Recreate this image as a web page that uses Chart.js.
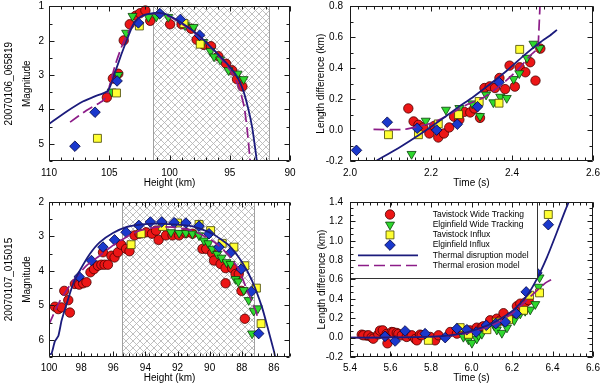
<!DOCTYPE html>
<html><head><meta charset="utf-8">
<script src="https://cdn.jsdelivr.net/npm/chart.js@4"></script>
<style>
html,body{margin:0;padding:0;background:#fff;width:600px;height:388px;overflow:hidden}
canvas{position:absolute}
</style></head><body>
<canvas id="c1" width="300" height="194" style="left:0;top:0"></canvas>
<canvas id="c2" width="300" height="194" style="left:300px;top:0"></canvas>
<canvas id="c3" width="300" height="194" style="left:0;top:194px"></canvas>
<canvas id="c4" width="300" height="194" style="left:300px;top:194px"></canvas>
<script>
// ---------- series names ----------
const seriesNames = ['Tavistock Wide Tracking','Elginfield Wide Tracking','Tavistock Influx','Elginfield Influx','Thermal disruption model','Thermal erosion model'];

// ---------- Panel 1: 20070106_065819 magnitude vs height ----------
const tlTavWide = [[105.2,3.65],[104.7,3.1],[104.25,2.96],[103.8,1.99],[103.3,1.52],[102.8,1.27],[102.45,1.2],[102.0,1.12],[101.6,1.42],[99.95,1.52],[99.0,1.52],[98.2,1.65],[97.75,1.97],[97.15,2.12],[96.55,2.16],[95.95,2.45],[95.3,2.67],[94.8,2.86],[94.4,3.12],[93.95,3.33]];
const tlElgWide = [[104.8,3.48],[104.25,3.0],[103.6,1.77],[103.07,1.28],[101.75,1.31],[101.1,1.3],[100.1,1.31],[98.7,1.55],[98.0,1.6],[97.2,2.04],[96.6,2.3],[96.3,2.46],[95.8,2.55],[95.1,2.86],[94.35,2.96],[93.85,3.12]];
const tlTavInflux = [[105.98,4.84],[104.4,3.52],[102.5,1.57],[98.8,1.5],[97.45,2.1]];
const tlElgInflux = [[107.85,5.07],[106.18,4.08],[104.35,3.17],[102.58,1.48],[100.8,1.21],[99.1,1.38],[97.5,1.84]];
const tlDisruption = [[110,4.42],[108.5,4.05],[107.15,3.76],[106.2,3.62],[105.1,3.45],[104.5,2.9],[104.0,2.4],[103.4,1.85],[103.0,1.52],[102.6,1.35],[102.0,1.24],[101.2,1.19],[100.5,1.2],[99.7,1.33],[98.6,1.57],[97.45,1.88],[96.35,2.26],[95.25,2.66],[94.4,3.04],[93.85,3.48],[93.45,4.0],[93.15,4.5],[92.9,5.1],[92.75,5.52]];
const tlErosion = [[108.25,4.37],[106.9,4.03],[105.5,3.74],[105.15,3.55],[104.9,3.2],[104.5,2.7],[104.0,2.2],[103.5,1.8],[103.0,1.52],[102.4,1.3],[101.6,1.22],[100.8,1.2],[99.7,1.35],[98.6,1.6],[97.45,1.9],[96.35,2.28],[95.25,2.72],[94.55,3.1],[94.15,3.45],[93.8,3.93],[93.55,4.6],[93.3,5.52]];
const tlHatch = [101.4, 91.7];
const tlXTicks = [90,95,100,105,110];
const tlYTicks = [1,2,3,4,5];

// ---------- Panel 2: 20070106 length difference vs time ----------
const trTavWide = [[2.144,0.14],[2.157,0.056],[2.169,0.034],[2.181,0.017],[2.196,-0.022],[2.208,0.027],[2.218,-0.048],[2.232,-0.022],[2.245,0.017],[2.257,0.086],[2.27,0.067],[2.282,0.118],[2.297,0.114],[2.307,0.14],[2.321,0.079],[2.332,0.272],[2.345,0.283],[2.358,0.272],[2.369,0.337],[2.383,0.265],[2.394,0.417],[2.407,0.281],[2.419,0.406],[2.433,0.374],[2.445,0.439],[2.458,0.32],[2.47,0.527]];
const trElgWide = [[2.152,-0.155],[2.187,0.06],[2.237,0.131],[2.27,0.142],[2.302,0.172],[2.321,0.09],[2.336,0.229],[2.354,0.179],[2.371,0.215],[2.387,0.207],[2.404,0.33],[2.418,0.367],[2.437,0.467],[2.453,0.558],[2.468,0.53]];
const trTavInflux = [[2.095,-0.03],[2.169,-0.03],[2.218,0.04],[2.268,0.1],[2.319,0.185],[2.368,0.174],[2.419,0.522]];
const trElgInflux = [[2.016,-0.131],[2.092,0.051],[2.166,0.012],[2.214,0.0],[2.265,0.038],[2.315,0.151],[2.368,0.309]];
const trDisruption = [[2.064,-0.2],[2.124,-0.109],[2.173,-0.027],[2.223,0.064],[2.264,0.142],[2.305,0.216],[2.346,0.298],[2.387,0.384],[2.429,0.482],[2.47,0.568],[2.494,0.612],[2.511,0.648]];
const trErosion = [[2.058,0.004],[2.132,0.004],[2.165,0.021],[2.206,0.049],[2.247,0.103],[2.288,0.164],[2.33,0.211],[2.371,0.287],[2.412,0.384],[2.445,0.482],[2.463,0.529],[2.466,0.623],[2.469,0.8]];
const trXTicks = [2.0,2.2,2.4,2.6];
const trYTicks = [-0.2,0.0,0.2,0.4,0.6,0.8];

// ---------- Panel 3: 20070107_015015 magnitude vs height ----------
const blTavWide = [[99.63,5.04],[99.42,5.11],[99.22,5.06],[99.05,4.58],[98.8,4.85],[98.7,5.21],[98.39,4.38],[98.12,4.4],[97.88,4.36],[97.67,4.33],[97.42,4.04],[97.2,3.95],[96.95,3.85],[96.74,3.82],[96.54,3.82],[96.33,3.82],[96.64,3.46],[96.12,3.56],[95.92,3.61],[95.71,3.46],[95.51,3.24],[95.2,3.36],[94.99,3.43],[94.68,2.97],[94.37,2.92],[93.96,2.88],[93.59,2.92],[93.18,3.1],[93.34,2.83],[92.72,2.97],[92.31,2.97],[91.9,2.97],[91.48,2.9],[91.07,2.92],[90.45,3.36],[90.21,3.36],[89.84,3.49],[89.73,3.7],[89.32,3.8],[89.01,3.92],[88.6,3.92],[88.39,4.09],[88.19,4.09],[89.01,4.36],[88.02,4.58],[87.81,5.39]];
const blElgWide = [[92.41,2.88],[91.9,2.9],[91.48,2.9],[91.07,2.92],[90.66,2.97],[90.35,3.12],[90.08,3.2],[89.84,3.36],[89.53,3.51],[89.26,3.62],[88.95,3.75],[88.7,3.8],[88.39,4.24],[88.22,4.31],[87.88,4.56],[87.57,4.85],[87.26,5.16],[87.0,5.09],[87.36,5.82]];
const blTavInflux = [[94.89,3.24],[94.27,2.92],[92.93,2.71],[92.0,2.61],[90.66,2.65],[89.94,2.83],[89.22,3.2],[88.49,3.31],[87.81,3.85],[87.09,4.5],[86.8,5.53]];
const blElgInflux = [[98.12,4.17],[97.36,3.7],[96.64,3.31],[95.92,3.1],[95.2,2.88],[94.41,2.68],[93.69,2.58],[92.99,2.58],[92.21,2.6],[91.48,2.61],[90.66,2.7],[90.04,2.92],[89.42,3.31],[88.7,3.47],[88.04,3.95],[87.4,4.6],[86.95,5.82]];
const blDisruption = [[100,6.41],[99.85,6.41],[99.63,6.04],[99.42,5.89],[99.22,5.45],[98.91,4.97],[98.5,4.38],[98.08,3.99],[97.46,3.51],[96.85,3.17],[96.02,2.9],[95.2,2.73],[94.37,2.66],[93.34,2.63],[92.31,2.65],[91.07,2.71],[89.84,2.92],[88.8,3.26],[87.98,3.75],[87.36,4.29],[86.74,5.06],[86.33,5.75],[86.0,6.33],[85.92,6.5]];
const blErosion = [[100,5.55],[99.32,4.87],[98.5,4.29],[97.67,3.85],[96.85,3.56],[96.02,3.26],[95.2,3.02],[94.37,2.83],[93.34,2.73],[92.31,2.73],[91.07,2.83],[89.84,3.12],[88.9,3.5],[88.2,3.95],[87.67,4.56],[87.15,5.14],[86.95,5.45]];
const blHatch = [95.48, 87.17];
const blXTicks = [86,88,90,92,94,96,98,100];
const blYTicks = [2,3,4,5,6];

// ---------- Panel 4: 20070107 length difference vs time ----------
const brTavWide = [[5.458,0.031],[5.482,0.021],[5.466,0.024],[5.491,0.024],[5.507,0.003],[5.515,-0.011],[5.54,0.034],[5.548,0.072],[5.562,0.075],[5.581,0.038],[5.585,-0.059],[5.606,0.058],[5.614,0.055],[5.631,0.048],[5.639,0.038],[5.656,0.024],[5.68,0.007],[5.705,0.024],[5.722,-0.014],[5.73,-0.028],[5.746,0.031],[5.754,0.024],[5.796,0.007],[5.82,-0.028],[5.837,0.024],[5.895,0.058],[5.928,0.041],[5.96,0.058],[5.977,0.072],[5.993,0.075],[6.026,0.103],[6.051,0.107],[6.059,0.117],[6.092,0.179],[6.125,0.196],[6.142,0.176],[6.158,0.252],[6.191,0.21],[6.224,0.324],[6.241,0.351],[6.265,0.361],[6.282,0.386]];
const brElgWide = [[5.96,0.007],[5.985,-0.02],[6.002,-0.055],[6.026,-0.011],[6.035,0.024],[6.051,0.038],[6.112,0.124],[6.125,0.082],[6.15,0.048],[6.175,0.103],[6.211,0.179],[6.241,0.248],[6.265,0.275],[6.29,0.289],[6.315,0.345],[6.331,0.524],[6.336,0.62]];
const brTavInflux = [[5.787,-0.028],[5.944,0.103],[5.985,0.034],[6.076,0.082],[6.125,0.16],[6.183,0.185],[6.257,0.282],[6.287,0.438],[6.336,0.462]];
const brElgInflux = [[5.573,0.013],[5.623,-0.035],[5.672,0.069],[5.771,0.041],[5.87,0.0],[5.928,0.093],[5.977,0.082],[6.023,0.058],[6.073,0.127],[6.12,0.145],[6.167,0.162],[6.221,0.248],[6.27,0.472],[6.323,0.668]];
const brDisruption = [[5.4,0],[5.6,0.002],[5.81,0.01],[5.9,0.025],[5.977,0.055],[6.076,0.124],[6.142,0.193],[6.208,0.286],[6.274,0.434],[6.323,0.607],[6.373,0.831],[6.422,1.09],[6.463,1.314],[6.48,1.4]];
const brErosion = [[5.4,0],[5.6,0.002],[5.81,0.01],[5.9,0.022],[5.977,0.045],[6.076,0.107],[6.142,0.169],[6.208,0.262],[6.274,0.39],[6.323,0.486],[6.364,0.562],[6.393,0.597]];
const brXTicks = [5.4,5.6,5.8,6.0,6.2,6.4,6.6];
const brYTicks = [-0.2,0.0,0.2,0.4,0.6,0.8,1.0,1.2,1.4];

// ---------- styles ----------
Chart.defaults.font.family = '"Liberation Sans", Arial, Helvetica, sans-serif';
Chart.defaults.font.size = 10;
Chart.defaults.color = '#000';

const STY = {
  tavWide:  {pointStyle:'circle',  pointRadius:4.7, rotation:0,   backgroundColor:'#ec1616', borderColor:'#4a0000'},
  elgWide:  {pointStyle:'triangle',pointRadius:5.2, rotation:180, backgroundColor:'#2ed82e', borderColor:'#0a400a'},
  tavInflux:{pointStyle:'rect',    pointRadius:5.6, rotation:0,   backgroundColor:'#ffff33', borderColor:'#444400'},
  elgInflux:{pointStyle:'rectRot', pointRadius:5.3, rotation:0,   backgroundColor:'#1a38cc', borderColor:'#000040'}
};
const NAVY = '#1b1b7c', PURPLE = '#8c1c88', DASH = [11,5];

const pts = a => a.map(p => ({x:p[0], y:p[1]}));

function pointDs(label, data, s){
  return {label, data:pts(data), showLine:false, pointStyle:s.pointStyle, pointRadius:s.pointRadius,
    pointRotation:s.rotation, pointBackgroundColor:s.backgroundColor, pointBorderColor:s.borderColor,
    pointBorderWidth:0.8, pointHoverRadius:s.pointRadius, clip:false};
}
function lineDs(label, data, color, dash){
  return {label, data:pts(data), showLine:true, pointRadius:0, borderColor:color, borderWidth: dash?1.7:1.8,
    borderDash: dash||[], tension:0.2, fill:false};
}

function makePattern(ctx){
  const c = document.createElement('canvas'); c.width = c.height = 7;
  const g = c.getContext('2d');
  g.strokeStyle = '#b3b3b3'; g.lineWidth = 0.85;
  g.beginPath(); g.moveTo(-1,-1); g.lineTo(8,8); g.moveTo(8,-1); g.lineTo(-1,8); g.stroke();
  return ctx.createPattern(c,'repeat');
}

function drawMarker(ctx, s, x, y){
  ctx.save();
  ctx.fillStyle = s.backgroundColor; ctx.strokeStyle = s.borderColor; ctx.lineWidth = 0.8;
  Chart.helpers.drawPoint(ctx, {pointStyle:s.pointStyle, radius:s.pointRadius, rotation:s.rotation, borderWidth:0.8}, x, y);
  ctx.restore();
}

function drawLegend(ctx, a){
  const L = a.left, T = a.top;
  ctx.save();
  ctx.fillStyle = '#fff';
  ctx.fillRect(L, T, 187.5, 76.5);
  ctx.strokeStyle = '#333'; ctx.lineWidth = 1;
  ctx.strokeRect(L+0.5, T+0.5, 187, 76);
  const rows = [12.5, 22.7, 32.9, 43.1, 53.3, 63.5];
  const keys = ['tavWide','elgWide','tavInflux','elgInflux'];
  ctx.font = '8.5px "Liberation Sans", Arial, sans-serif';
  ctx.textBaseline = 'middle'; ctx.textAlign = 'left'; ctx.fillStyle = '#000';
  seriesNames.forEach((n,i)=>{ ctx.fillStyle='#000'; ctx.fillText(n, L+82.7, T+rows[i]); });
  keys.forEach((k,i)=> drawMarker(ctx, STY[k], L+40, T+rows[i]));
  drawMarker(ctx, STY.tavInflux, L+198.3, T+rows[0]);
  drawMarker(ctx, STY.elgInflux, L+198.3, T+rows[1]);
  ctx.lineWidth = 1.8; ctx.strokeStyle = NAVY;
  ctx.beginPath(); ctx.moveTo(L+8, T+rows[4]); ctx.lineTo(L+68, T+rows[4]); ctx.stroke();
  ctx.strokeStyle = PURPLE; ctx.lineWidth = 1.7; ctx.setLineDash(DASH);
  ctx.beginPath(); ctx.moveTo(L+8, T+rows[5]); ctx.lineTo(L+68, T+rows[5]); ctx.stroke();
  ctx.restore();
}

function decoPlugin(p){
  return {
    id:'deco',
    beforeDatasetsDraw(chart){
      if (!p.hatch) return;
      const {ctx, chartArea:a, scales:{x}} = chart;
      const x1 = x.getPixelForValue(p.hatch[0]), x2 = x.getPixelForValue(p.hatch[1]);
      const l = Math.round(Math.min(x1,x2)), r = Math.round(Math.max(x1,x2));
      ctx.save();
      ctx.fillStyle = makePattern(ctx);
      ctx.fillRect(l, a.top, r-l, a.bottom-a.top);
      ctx.strokeStyle = '#a0a0a0'; ctx.lineWidth = 1;
      ctx.beginPath();
      ctx.moveTo(l+0.5, a.top); ctx.lineTo(l+0.5, a.bottom);
      ctx.moveTo(r-0.5, a.top); ctx.lineTo(r-0.5, a.bottom);
      ctx.stroke();
      ctx.restore();
    },
    afterDatasetsDraw(chart){
      const {ctx, chartArea:a, scales:{x,y}} = chart;
      if (p.legend) drawLegend(ctx, a);
      ctx.save();
      ctx.strokeStyle = '#1a1a1a'; ctx.lineWidth = 1;
      const L = Math.round(a.left)+0.5, R = Math.round(a.right)-0.5, T = Math.round(a.top)+0.5, B = Math.round(a.bottom)-0.5;
      ctx.beginPath();
      ctx.rect(L, T, R-L, B-T);
      const tx = (v,len)=>{ const px = Math.round(x.getPixelForValue(v))+0.5; ctx.moveTo(px,B); ctx.lineTo(px,B-len); ctx.moveTo(px,T); ctx.lineTo(px,T+len); };
      const ty = (v,len)=>{ const py = Math.round(y.getPixelForValue(v))+0.5; ctx.moveTo(L,py); ctx.lineTo(L+len,py); ctx.moveTo(R,py); ctx.lineTo(R-len,py); };
      const nx = Math.floor((x.max-x.min)/p.minor[0] + 1e-6);
      for (let i=0;i<=nx;i++) tx(x.min+i*p.minor[0], 3);
      const ny = Math.floor((y.max-y.min)/p.minor[1] + 1e-6);
      for (let i=0;i<=ny;i++) ty(y.min+i*p.minor[1], 3);
      x.ticks.forEach(t=>tx(t.value,5));
      y.ticks.forEach(t=>ty(t.value,5));
      ctx.stroke();
      ctx.restore();
    }
  };
}

function makePanel(id, p){
  const datasets = [
    lineDs(seriesNames[4], p.dis, NAVY),
    lineDs(seriesNames[5], p.ero, PURPLE, DASH),
    pointDs(seriesNames[3], p.ei, STY.elgInflux),
    pointDs(seriesNames[2], p.ti, STY.tavInflux),
    pointDs(seriesNames[1], p.ew, STY.elgWide),
    pointDs(seriesNames[0], p.tw, STY.tavWide)
  ];
  return new Chart(document.getElementById(id), {
    type:'scatter',
    data:{datasets},
    options:{
      responsive:false, animation:false, events:[],
      layout:{padding:p.pad},
      plugins:{legend:{display:false}, tooltip:{enabled:false}},
      scales:{
        x:{type:'linear', min:p.xr[0], max:p.xr[1], reverse:p.xrev,
           afterBuildTicks:s=>{ s.ticks = p.xt.map(v=>({value:v})); },
           afterFit:s=>{ s.height = p.xh; s.paddingLeft = 0; s.paddingRight = 0; },
           ticks:{z:1, padding:p.xtp, maxRotation:0, minRotation:0, autoSkip:false, callback:v=>Number(v).toFixed(p.xd), font:{size:10}},
           grid:{display:false, drawTicks:false}, border:{display:false},
           title:{display:true, text:p.xtitle, padding:0, font:{size:10}}},
        y:{type:'linear', min:p.yr[0], max:p.yr[1], reverse:p.yrev,
           afterBuildTicks:s=>{ s.ticks = p.yt.map(v=>({value:v})); },
           afterFit:s=>{ s.width = p.yw; s.paddingTop = 0; s.paddingBottom = 0; },
           ticks:{z:1, padding:p.ytp, autoSkip:false, callback:v=>Number(v).toFixed(p.yd), font:{size:10}},
           grid:{display:false, drawTicks:false}, border:{display:false},
           title:{display:true, text:p.ytitle, padding:{top:p.ytpad, bottom:0}, font:{size:10, lineHeight:p.ylh}}}
      }
    },
    plugins:[decoPlugin(p)]
  });
}

makePanel('c1', {tw:tlTavWide, ew:tlElgWide, ti:tlTavInflux, ei:tlElgInflux, dis:tlDisruption, ero:tlErosion,
  xr:[90,110], xrev:true, yr:[1,5.5], yrev:true, xt:tlXTicks, yt:tlYTicks, xd:0, yd:0,
  xtitle:'Height (km)', ytitle:['20070106_065819','Magnitude'], ytpad:0, ylh:'18px',
  pad:{left:0, right:10, top:6, bottom:5}, xh:28, yw:49, xtp:6, ytp:5, minor:[1,0.5], hatch:tlHatch});

makePanel('c2', {tw:trTavWide, ew:trElgWide, ti:trTavInflux, ei:trElgInflux, dis:trDisruption, ero:trErosion,
  xr:[2.0,2.6], xrev:false, yr:[-0.2,0.8], yrev:false, xt:trXTicks, yt:trYTicks, xd:1, yd:1,
  xtitle:'Time (s)', ytitle:'Length difference (km)', ytpad:15.5, ylh:1.2,
  pad:{left:0, right:7, top:6, bottom:5}, xh:28, yw:50, xtp:6, ytp:7, minor:[0.02,0.1]});

makePanel('c3', {tw:blTavWide, ew:blElgWide, ti:blTavInflux, ei:blElgInflux, dis:blDisruption, ero:blErosion,
  xr:[85,100], xrev:true, yr:[2,6.5], yrev:true, xt:blXTicks, yt:blYTicks, xd:0, yd:0,
  xtitle:'Height (km)', ytitle:['20070107_015015','Magnitude'], ytpad:0, ylh:'18px',
  pad:{left:0, right:10, top:8, bottom:4}, xh:27, yw:49, xtp:5, ytp:5, minor:[0.4,0.5], hatch:blHatch});

makePanel('c4', {tw:brTavWide, ew:brElgWide, ti:brTavInflux, ei:brElgInflux, dis:brDisruption, ero:brErosion,
  xr:[5.4,6.6], xrev:false, yr:[-0.2,1.4], yrev:false, xt:brXTicks, yt:brYTicks, xd:1, yd:1,
  xtitle:'Time (s)', ytitle:'Length difference (km)', ytpad:16.5, ylh:1.2,
  pad:{left:0, right:7, top:8, bottom:4}, xh:27, yw:50, xtp:5, ytp:7, minor:[0.2/6,0.2/3], legend:true});
</script>
</body></html>
